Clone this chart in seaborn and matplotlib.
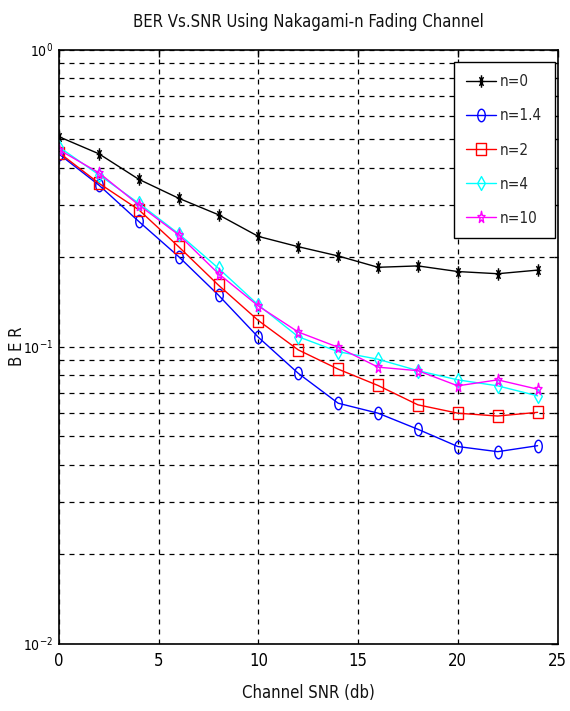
import numpy as np
import pandas as pd
import matplotlib
matplotlib.use("Agg")
import matplotlib.pyplot as plt
import seaborn as sns
from matplotlib.path import Path
from matplotlib.transforms import Affine2D
from matplotlib import font_manager as fm
from matplotlib.ticker import LogLocator, NullFormatter

# ---- data ----
snr = [0, 2, 4, 6, 8, 10, 12, 14, 16, 18, 20, 22, 24]
ber_n0 = [0.509, 0.446, 0.366, 0.316, 0.278, 0.235, 0.217, 0.202, 0.185, 0.187, 0.179, 0.176, 0.181]
ber_n14 = [0.445, 0.350, 0.264, 0.201, 0.149, 0.1075, 0.0813, 0.0645, 0.0597, 0.0527, 0.0461, 0.0443, 0.0464]
ber_n2 = [0.450, 0.355, 0.289, 0.217, 0.161, 0.1224, 0.0975, 0.0840, 0.0740, 0.0637, 0.0597, 0.0584, 0.0601]
ber_n4 = [0.470, 0.379, 0.304, 0.240, 0.1835, 0.138, 0.108, 0.0962, 0.0907, 0.0830, 0.0773, 0.0738, 0.0683]
ber_n10 = [0.460, 0.385, 0.300, 0.238, 0.176, 0.137, 0.112, 0.0995, 0.0853, 0.0830, 0.0738, 0.0773, 0.0719]
labels = ["n=0", "n=1.4", "n=2", "n=4", "n=10"]
title = "BER Vs.SNR Using Nakagami-n Fading Channel"
xlabel = "Channel SNR (db)"
ylabel = "B E R"

series = [ber_n0, ber_n14, ber_n2, ber_n4, ber_n10]
df = pd.DataFrame({
    "snr": np.tile(snr, len(series)),
    "ber": np.concatenate(series),
    "n": np.repeat(labels, len(snr)),
})

# ---- style ----
sns.set_style("white")
names = {f.name for f in fm.fontManager.ttflist}
if "Liberation Sans Narrow" in names:
    plt.rcParams["font.family"] = ["Liberation Sans Narrow", "DejaVu Sans"]
    plt.rcParams["font.stretch"] = "normal"
else:
    plt.rcParams["font.family"] = ["DejaVu Sans"]
    plt.rcParams["font.stretch"] = "condensed"
plt.rcParams["mathtext.fontset"] = "custom"
plt.rcParams["mathtext.rm"] = plt.rcParams["font.family"][0]
plt.rcParams["mathtext.default"] = "regular"

def squish(path, sx, sy=1.0):
    return Affine2D().scale(sx, sy).transform_path(path)

# asterisk marker
ast_verts = []
ast_codes = []
for ang in [0, 45, 90, 135]:
    a = np.deg2rad(ang)
    ast_verts += [(-np.cos(a), -np.sin(a)), (np.cos(a), np.sin(a))]
    ast_codes += [Path.MOVETO, Path.LINETO]
m_ast = squish(Path(ast_verts, ast_codes), 0.45)
m_circ = squish(Path.unit_circle(), 0.6)
m_sq = squish(Path.unit_rectangle().transformed(Affine2D().translate(-0.5, -0.5)), 0.85)
m_dia = squish(Path.unit_regular_polygon(4), 0.55)
m_star = squish(Path.unit_regular_star(5, 0.4), 0.6)

colors = ["black", "blue", "red", "cyan", "magenta"]
markers = [m_ast, m_circ, m_sq, m_dia, m_star]
msizes = [9, 9, 8, 10, 9]

fig = plt.figure(figsize=(5.7, 7.11), dpi=100)
ax = fig.add_axes([0.1035, 0.0947, 0.8746, 0.8355])

for lab, col, mk, ms in zip(labels, colors, markers, msizes):
    sns.lineplot(data=df[df["n"] == lab], x="snr", y="ber", ax=ax, color=col,
                 marker=mk, markersize=ms, markerfacecolor="none",
                 markeredgecolor=col, markeredgewidth=1.0, linewidth=1.0,
                 label=lab, estimator=None, sort=False)

ax.set_yscale("log")
ax.set_xlim(0, 25)
ax.set_ylim(0.01, 1)
ax.set_xticks([0, 5, 10, 15, 20, 25])
ax.yaxis.set_major_locator(LogLocator(base=10, numticks=10))
ax.yaxis.set_minor_locator(LogLocator(base=10, subs=np.arange(2, 10), numticks=20))
ax.yaxis.set_minor_formatter(NullFormatter())

grid_kw = dict(color="black", linestyle=(0, (4, 4)), linewidth=0.9)
ax.grid(True, which="major", axis="both", **grid_kw)
ax.grid(True, which="minor", axis="y", **grid_kw)
ax.set_axisbelow(True)

ax.tick_params(axis="both", which="both", direction="in", top=True, right=True,
               colors="black", width=1)
ax.tick_params(axis="both", which="major", length=5)
ax.tick_params(axis="y", which="minor", length=3)
ax.tick_params(axis="x", labelsize=12, pad=6)
ax.tick_params(axis="y", labelsize=10, pad=4)
for s in ax.spines.values():
    s.set_color("black")
    s.set_linewidth(1.2)

ax.set_title(title, fontsize=12, pad=16, color="#111111")
ax.set_xlabel(xlabel, fontsize=12, labelpad=10, color="#111111")
ax.set_ylabel(ylabel, fontsize=12, color="#111111")
ax.yaxis.set_label_coords(-0.066, 0.5)

leg = ax.legend(loc="upper right", bbox_to_anchor=(0.994, 0.979), fontsize=11,
                frameon=True, fancybox=False, framealpha=1, edgecolor="black",
                handlelength=2.0, labelspacing=1.25, borderpad=0.8,
                handletextpad=0.25, borderaxespad=0)
leg.get_frame().set_linewidth(1.0)

fig.savefig("out.png", dpi=100)
